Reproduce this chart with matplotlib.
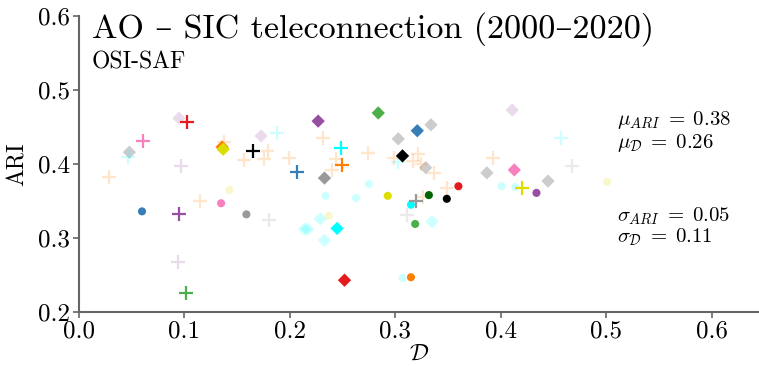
import matplotlib
matplotlib.use("Agg")
import matplotlib.pyplot as plt
from matplotlib.colors import to_rgba

# ── Configuration ──────────────────────────────────────────────────────────────
OUT_FILE = "out.png"
FAINT    = 0.2

COLOURS = {
    "red":    "#e41a1c",
    "blue":   "#377eb8",
    "green":  "#4daf4a",
    "purple": "#984ea3",
    "orange": "#ff7f00",
    "yellow": "#dddd00",
    "pink":   "#f781bf",
    "gray":   "#999999",
    "black":  "#000000",
    "cyan":   "#00ffff",
    "dgreen": "#006400",
}

# ── Data ──────────────────────────────────────────────────────────────────────
# plus markers
plus_x = [0.029, 0.047, 0.061, 0.103, 0.097, 0.095, 0.094, 0.102, 0.115, 0.138,
          0.157, 0.165, 0.176, 0.179, 0.180, 0.188, 0.199, 0.207, 0.232, 0.249,
          0.244, 0.250, 0.240, 0.274, 0.299, 0.303, 0.322, 0.317, 0.325, 0.337,
          0.320, 0.326, 0.311, 0.349, 0.393, 0.420, 0.457, 0.468]
plus_y = [0.382, 0.410, 0.431, 0.457, 0.397, 0.332, 0.268, 0.226, 0.350, 0.430,
          0.405, 0.417, 0.407, 0.418, 0.324, 0.442, 0.408, 0.389, 0.435, 0.422,
          0.407, 0.399, 0.392, 0.415, 0.408, 0.403, 0.413, 0.404, 0.400, 0.388,
          0.350, 0.355, 0.331, 0.368, 0.408, 0.368, 0.435, 0.397]
plus_c = ["orange", "cyan", "pink", "red", "purple", "purple", "purple", "green",
          "orange", "orange", "orange", "black", "orange", "orange", "gray", "cyan",
          "orange", "blue", "orange", "cyan", "orange", "orange", "orange", "orange",
          "orange", "cyan", "orange", "orange", "orange", "orange", "gray", "orange",
          "gray", "orange", "orange", "yellow", "cyan", "gray"]
plus_sig = [0, 0, 1, 1, 0, 1, 0, 1, 0, 0, 0, 1, 0, 0, 0, 0, 0, 1, 0, 1,
            0, 1, 0, 0, 0, 0, 0, 0, 0, 0, 1, 0, 0, 0, 0, 1, 0, 0]

# circle markers
circ_x = [0.060, 0.135, 0.143, 0.159, 0.234, 0.263, 0.275, 0.237, 0.293, 0.315,
          0.332, 0.319, 0.307, 0.315, 0.360, 0.349, 0.401, 0.414, 0.434, 0.501]
circ_y = [0.336, 0.347, 0.365, 0.332, 0.357, 0.354, 0.373, 0.330, 0.357, 0.345,
          0.358, 0.319, 0.246, 0.247, 0.370, 0.353, 0.370, 0.369, 0.361, 0.376]
circ_c = ["blue", "pink", "yellow", "gray", "cyan", "cyan", "cyan", "yellow",
          "yellow", "cyan", "dgreen", "green", "cyan", "orange", "red", "black",
          "cyan", "cyan", "purple", "yellow"]
circ_sig = [1, 1, 0, 1, 0, 0, 0, 0, 1, 1, 1, 1, 0, 1, 1, 1, 0, 0, 1, 0]

# diamond markers
diam_x = [0.048, 0.095, 0.136, 0.137, 0.173, 0.214, 0.217, 0.227, 0.233, 0.229,
          0.245, 0.233, 0.252, 0.284, 0.303, 0.321, 0.334, 0.307, 0.329, 0.335,
          0.387, 0.411, 0.413, 0.445]
diam_y = [0.416, 0.462, 0.423, 0.420, 0.438, 0.312, 0.312, 0.458, 0.381, 0.326,
          0.313, 0.297, 0.243, 0.469, 0.434, 0.445, 0.453, 0.411, 0.395, 0.322,
          0.388, 0.473, 0.392, 0.377]
diam_c = ["black", "purple", "orange", "yellow", "purple", "cyan", "cyan", "purple",
          "gray", "cyan", "cyan", "cyan", "red", "green", "black", "blue", "black",
          "black", "black", "cyan", "black", "purple", "pink", "black"]
diam_sig = [0, 0, 1, 1, 0, 0, 0, 1, 1, 0, 1, 0, 1, 1, 0, 1, 0, 1, 0, 0,
            0, 0, 1, 0]

stats = {"mu_ari": 0.38, "mu_d": 0.26, "sd_ari": 0.05, "sd_d": 0.11}


def rgba(names, sig):
    return [to_rgba(COLOURS[n], 1.0 if s else FAINT) for n, s in zip(names, sig)]


def pick(vals, sig, keep):
    return [v for v, s in zip(vals, sig) if s == keep]


# ── Style ──────────────────────────────────────────────────────────────────────
plt.rcParams["font.family"]                 = ["cmr10", "DejaVu Serif"]
plt.rcParams["mathtext.fontset"]            = "cm"
plt.rcParams["axes.formatter.use_mathtext"] = True
plt.rcParams["axes.unicode_minus"]          = False

fig = plt.figure(figsize=(7.59, 3.66), dpi=100)
ax  = fig.add_axes([0.1037, 0.1475, 0.8963, 0.8087])

# ── Scatter: faint first, significant on top ──────────────────────────────────
groups = [
    (diam_x, diam_y, diam_c, diam_sig, dict(marker="D", s=46, linewidths=0)),
    (circ_x, circ_y, circ_c, circ_sig, dict(marker="o", s=34, linewidths=0)),
    (plus_x, plus_y, plus_c, plus_sig, dict(marker="+", s=100, linewidths=1.6)),
]
for keep, z in [(0, 2), (1, 3)]:
    for gx, gy, gc, gs, kw in groups:
        names = pick(gc, gs, keep)
        cols  = rgba(names, [keep] * len(names))
        ax.scatter(pick(gx, gs, keep), pick(gy, gs, keep), c=cols, zorder=z, **kw)

# ── Axes ──────────────────────────────────────────────────────────────────────
ax.set_xlim(0, 0.645)
ax.set_ylim(0.2, 0.6)
ax.set_xticks([0.0, 0.1, 0.2, 0.3, 0.4, 0.5, 0.6])
ax.set_yticks([0.2, 0.3, 0.4, 0.5, 0.6])
ax.set_xticklabels([f"{v:.1f}" for v in ax.get_xticks()])
ax.set_yticklabels([f"{v:.1f}" for v in ax.get_yticks()])
ax.tick_params(labelsize=18, length=4, width=1.2, color="#666666", pad=2)
for side in ["top", "right"]:
    ax.spines[side].set_visible(False)
for side in ["left", "bottom"]:
    ax.spines[side].set_color("#666666")
    ax.spines[side].set_linewidth(1.5)

ax.set_xlabel(r"$\mathcal{D}$", fontsize=17, labelpad=0)
ax.set_ylabel("ARI", fontsize=17, labelpad=7)

# ── Titles and summary stats ──────────────────────────────────────────────────
ax.text(0.0195, 0.926, "AO \u2013 SIC teleconnection (2000\u20132020)",
        transform=ax.transAxes, fontsize=24.5, va="baseline")
ax.text(0.0195, 0.824, "OSI-SAF", transform=ax.transAxes, fontsize=17,
        va="baseline")

tx = 0.791
ax.text(tx, 0.632, rf"$\mu_{{ARI}}\;=\;{stats['mu_ari']:.2f}$",
        transform=ax.transAxes, fontsize=15, va="baseline")
ax.text(tx, 0.554, rf"$\mu_{{\mathcal{{D}}}}\;=\;{stats['mu_d']:.2f}$",
        transform=ax.transAxes, fontsize=15, va="baseline")
ax.text(tx, 0.307, rf"$\sigma_{{ARI}}\;=\;{stats['sd_ari']:.2f}$",
        transform=ax.transAxes, fontsize=15, va="baseline")
ax.text(tx, 0.236, rf"$\sigma_{{\mathcal{{D}}}}\;=\;{stats['sd_d']:.2f}$",
        transform=ax.transAxes, fontsize=15, va="baseline")

fig.savefig(OUT_FILE, dpi=100)
plt.close(fig)
